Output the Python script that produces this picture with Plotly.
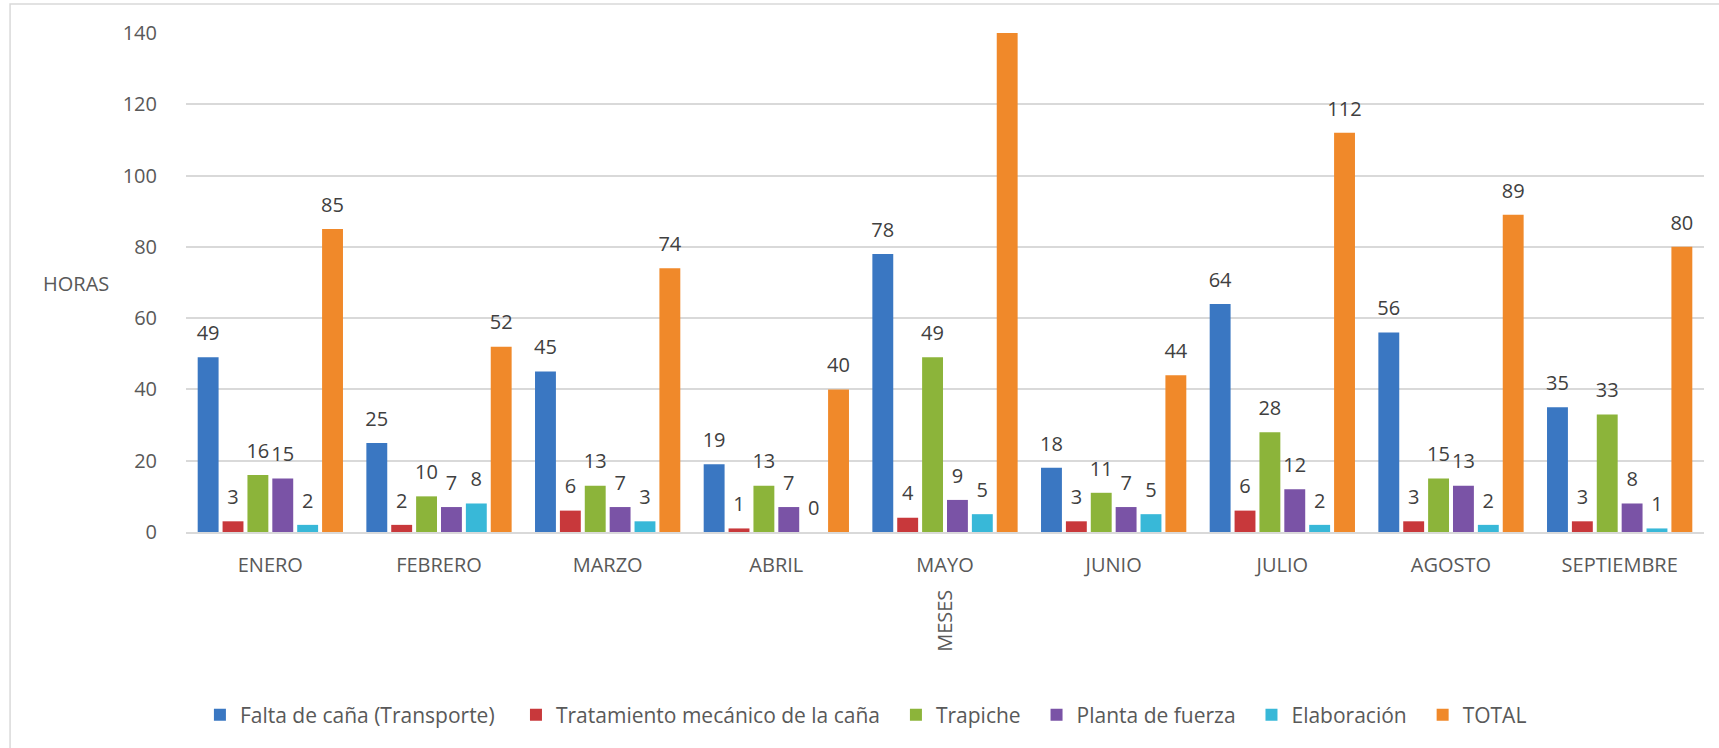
import plotly.graph_objects as go

months = ["ENERO", "FEBRERO", "MARZO", "ABRIL", "MAYO", "JUNIO", "JULIO", "AGOSTO", "SEPTIEMBRE"]
series_names = ["Falta de caña (Transporte)", "Tratamiento mecánico de la caña", "Trapiche",
                "Planta de fuerza", "Elaboración", "TOTAL"]
transporte = [49, 25, 45, 19, 78, 18, 64, 56, 35]
tratamiento = [3, 2, 6, 1, 4, 3, 6, 3, 3]
trapiche = [16, 10, 13, 13, 49, 11, 28, 15, 33]
planta = [15, 7, 7, 7, 9, 7, 12, 13, 8]
elaboracion = [2, 8, 3, 0, 5, 5, 2, 2, 1]
total = [85, 52, 74, 40, 145, 44, 112, 89, 80]
y_ticks = [0, 20, 40, 60, 80, 100, 120, 140]
Y_MAX = 140

series_values = [transporte, tratamiento, trapiche, planta, elaboracion, total]
colors = ["#3A77C2", "#C8383B", "#8CB43A", "#7A53A6", "#38B8D8", "#F0892A"]
legend_pad = [3, 2, 2, 2, 2, 0]

FONT = "Open Sans"
LABEL_COLOR = "#404040"
AXIS_COLOR = "#595959"
GAP = 0.115

fig = go.Figure()
for i, (name, vals) in enumerate(zip(series_names, series_values)):
    fig.add_trace(go.Bar(
        x=months, y=vals, name=name + "\u00a0" * legend_pad[i],
        marker=dict(color=colors[i], line=dict(width=0)),
        offsetgroup="s%d" % i,
        hoverinfo="x+y",
    ))
for i, (name, vals) in enumerate(zip(series_names, series_values)):
    # labels of bars running past the axis top are clipped in the reference
    fig.add_trace(go.Scatter(
        x=months, y=vals, mode="markers+text",
        text=[str(v) if v <= Y_MAX else "" for v in vals], textposition="top center",
        textfont=dict(family=FONT, size=20, color=LABEL_COLOR),
        marker=dict(size=18, opacity=0),
        offsetgroup="s%d" % i, cliponaxis=True,
        showlegend=False, hoverinfo="skip",
    ))

fig.update_layout(
    width=1719, height=748,
    margin=dict(l=186, r=15, t=33, b=216),
    paper_bgcolor="white", plot_bgcolor="white",
    barmode="group", bargap=GAP, bargroupgap=0.16,
    scattermode="group", scattergap=GAP,
    font=dict(family=FONT, size=20, color=AXIS_COLOR),
    showlegend=True,
    legend=dict(orientation="h", xref="container", yref="container",
                x=0.1163, y=0.044, xanchor="left", yanchor="middle",
                font=dict(family=FONT, size=21, color=AXIS_COLOR),
                itemwidth=30, traceorder="normal"),
    xaxis=dict(showgrid=False, showline=True, linecolor="#d9d9d9", linewidth=2,
               ticks="", ticklabelstandoff=14,
               tickfont=dict(family=FONT, size=20, color=AXIS_COLOR)),
    yaxis=dict(range=[0, Y_MAX], tickvals=y_ticks, showgrid=True, gridcolor="#d9d9d9",
               gridwidth=1.5, zeroline=False, showline=False, ticks="",
               ticklabelstandoff=28,
               tickfont=dict(family=FONT, size=20, color=AXIS_COLOR)),
    annotations=[
        dict(text="HORAS", xref="paper", yref="paper", x=-0.0725, y=0.497,
             showarrow=False, xanchor="center", yanchor="middle",
             font=dict(family=FONT, size=20, color=AXIS_COLOR)),
        dict(text="MESES", xref="paper", yref="paper", x=0.5, y=-0.178,
             showarrow=False, textangle=-90, xanchor="center", yanchor="middle",
             font=dict(family=FONT, size=20, color=AXIS_COLOR)),
    ],
    shapes=[
        dict(type="rect", xref="paper", yref="paper", x0=-0.1159, x1=1.1,
             y0=-0.6, y1=1.0581, line=dict(color="#d9d9d9", width=1.5),
             fillcolor="rgba(0,0,0,0)", layer="below"),
    ],
)

fig.write_html("out.html")
